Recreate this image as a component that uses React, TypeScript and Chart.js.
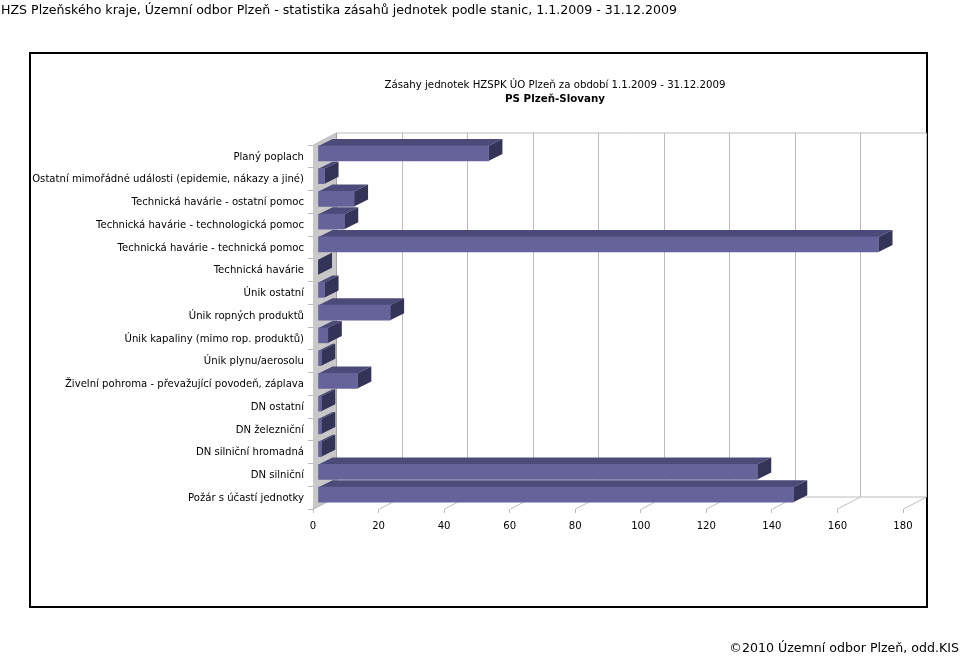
import React, { useEffect, useRef } from "react";
import { Chart, registerables } from "chart.js";

Chart.register(...registerables);

const pageTitle = "HZS Plzeňského kraje, Územní odbor Plzeň - statistika zásahů jednotek podle stanic, 1.1.2009 - 31.12.2009";
const chartTitle = "Zásahy jednotek HZSPK ÚO Plzeň za období 1.1.2009 - 31.12.2009";
const chartSubtitle = "PS Plzeň-Slovany";
const footerText = "©2010 Územní odbor Plzeň, odd.KIS";

const categories = [
  "Planý poplach",
  "Ostatní mimořádné události (epidemie, nákazy a jiné)",
  "Technická havárie - ostatní pomoc",
  "Technická havárie - technologická pomoc",
  "Technická havárie - technická pomoc",
  "Technická havárie",
  "Únik ostatní",
  "Únik ropných produktů",
  "Únik kapaliny (mimo rop. produktů)",
  "Únik plynu/aerosolu",
  "Živelní pohroma - převažující povodeň, záplava",
  "DN ostatní",
  "DN železniční",
  "DN silniční hromadná",
  "DN silniční",
  "Požár s účastí jednotky",
];
const values = [52, 2, 11, 8, 171, 0, 2, 22, 3, 1, 12, 1, 1, 1, 134, 145];

const FONT = "'DejaVu Sans'";
const DEPTH_X = 23;
const DEPTH_Y = 12;
const BAR_OFF_X = 5;
const BAR_OFF_Y = -3;
const BAR_DX = 14;
const BAR_DY = 7;

function poly(ctx: CanvasRenderingContext2D, pts: number[][], fill: string) {
  ctx.beginPath();
  pts.forEach((p, i) => (i ? ctx.lineTo(p[0], p[1]) : ctx.moveTo(p[0], p[1])));
  ctx.closePath();
  ctx.fillStyle = fill;
  ctx.fill();
}

const scene3d = {
  id: "scene3d",
  beforeDatasetsDraw(chart: any) {
    const { ctx, chartArea: a, scales } = chart;
    const x = scales.x;
    ctx.save();
    // outer frame
    ctx.strokeStyle = "#000";
    ctx.lineWidth = 2;
    ctx.strokeRect(30, 53, 897, 554);
    // left wall
    poly(ctx, [[a.left, a.top], [a.left + DEPTH_X, a.top - DEPTH_Y], [a.left + DEPTH_X, a.bottom - DEPTH_Y], [a.left, a.bottom]], "#c8c8c8");
    ctx.lineWidth = 1;
    ctx.strokeStyle = "#bcbcc0";
    ctx.beginPath();
    ctx.moveTo(a.left + 0.5, a.top);
    ctx.lineTo(a.left + DEPTH_X + 0.5, a.top - DEPTH_Y);
    ctx.lineTo(x.getPixelForValue(180) + DEPTH_X + 0.5, a.top - DEPTH_Y);
    ctx.moveTo(a.left + 0.5, a.bottom);
    ctx.lineTo(a.left + DEPTH_X + 0.5, a.bottom - DEPTH_Y);
    ctx.lineTo(x.getPixelForValue(180) + DEPTH_X + 0.5, a.bottom - DEPTH_Y);
    x.ticks.forEach((t: any) => {
      const px = Math.round(x.getPixelForValue(t.value)) + 0.5;
      ctx.moveTo(px, a.bottom);
      ctx.lineTo(px + DEPTH_X, a.bottom - DEPTH_Y);
      ctx.lineTo(px + DEPTH_X, a.top - DEPTH_Y);
    });
    ctx.stroke();
    // darker back edge of the left wall
    ctx.strokeStyle = "#a2a2a6";
    ctx.beginPath();
    ctx.moveTo(a.left + DEPTH_X + 0.5, a.top - DEPTH_Y);
    ctx.lineTo(a.left + DEPTH_X + 0.5, a.bottom - DEPTH_Y);
    ctx.stroke();
    ctx.restore();

    // chart titles
    ctx.save();
    ctx.fillStyle = "#000";
    ctx.textAlign = "center";
    ctx.textBaseline = "middle";
    ctx.font = `10.2px ${FONT}`;
    ctx.fillText(chartTitle, 555, 85.5);
    ctx.font = `bold 10.3px ${FONT}`;
    ctx.fillText(chartSubtitle, 555, 99.5);
    ctx.restore();

    // depth faces of bars
    const meta = chart.getDatasetMeta(0);
    ctx.save();
    ctx.translate(BAR_OFF_X, BAR_OFF_Y);
    meta.data.forEach((b: any) => {
      const r = b.x;
      const base = b.base;
      const t = b.y - b.height / 2;
      const bt = b.y + b.height / 2;
      poly(ctx, [[base, t], [r, t], [r + BAR_DX, t - BAR_DY], [base + BAR_DX, t - BAR_DY]], "#4b4a78");
      poly(ctx, [[r, t], [r + BAR_DX, t - BAR_DY], [r + BAR_DX, bt - BAR_DY], [r, bt]], "#343358");
    });
    ctx.restore();
  },
  beforeDatasetDraw(chart: any) {
    chart.ctx.save();
    chart.ctx.translate(BAR_OFF_X, BAR_OFF_Y);
  },
  afterDatasetDraw(chart: any) {
    chart.ctx.restore();
  },
};

export default function App() {
  const ref = useRef<HTMLCanvasElement>(null);
  useEffect(() => {
    const chart = new Chart(ref.current as HTMLCanvasElement, {
      type: "bar",
      data: {
        labels: categories,
        datasets: [{ data: values, backgroundColor: "#66639a", borderWidth: 0, barThickness: 15 }],
      },
      options: {
        indexAxis: "y",
        responsive: false,
        animation: false,
        layout: { padding: { top: 145, right: 57, bottom: 0, left: 0 } },
        plugins: { legend: { display: false }, title: { display: false }, tooltip: { enabled: false } },
        scales: {
          x: {
            min: 0,
            max: 180,
            afterFit: (s: any) => { s.height = 147; },
            ticks: { stepSize: 20, color: "#000", padding: 7, maxRotation: 0, font: { family: FONT, size: 10.1 } },
            grid: { drawOnChartArea: false, drawTicks: true, tickLength: 4, color: "#bcbcc0" },
            border: { display: false },
          },
          y: {
            afterFit: (s: any) => { s.width = 313; },
            ticks: { autoSkip: false, color: "#000", padding: 4, labelOffset: 0.7, font: { family: FONT, size: 10.1 } },
            grid: { drawOnChartArea: false, drawTicks: true, tickLength: 5, color: "#bcbcc0", offset: true },
            border: { display: true, color: "#a8a8ac" },
          },
        },
      },
      plugins: [scene3d],
    } as any);
    return () => chart.destroy();
  }, []);
  const textStyle: React.CSSProperties = { position: "absolute", whiteSpace: "nowrap", fontFamily: FONT, fontSize: 12.6, color: "#000" };
  return (
    <div style={{ position: "absolute", left: 0, top: 0, width: 960, height: 656, background: "#fff", overflow: "hidden" }}>
      <canvas ref={ref} width={960} height={656} style={{ position: "absolute", left: 0, top: 0 }} />
      <div style={{ ...textStyle, left: 1, top: 2 }}>{pageTitle}</div>
      <div style={{ ...textStyle, right: 1, top: 640 }}>{footerText}</div>
    </div>
  );
}
